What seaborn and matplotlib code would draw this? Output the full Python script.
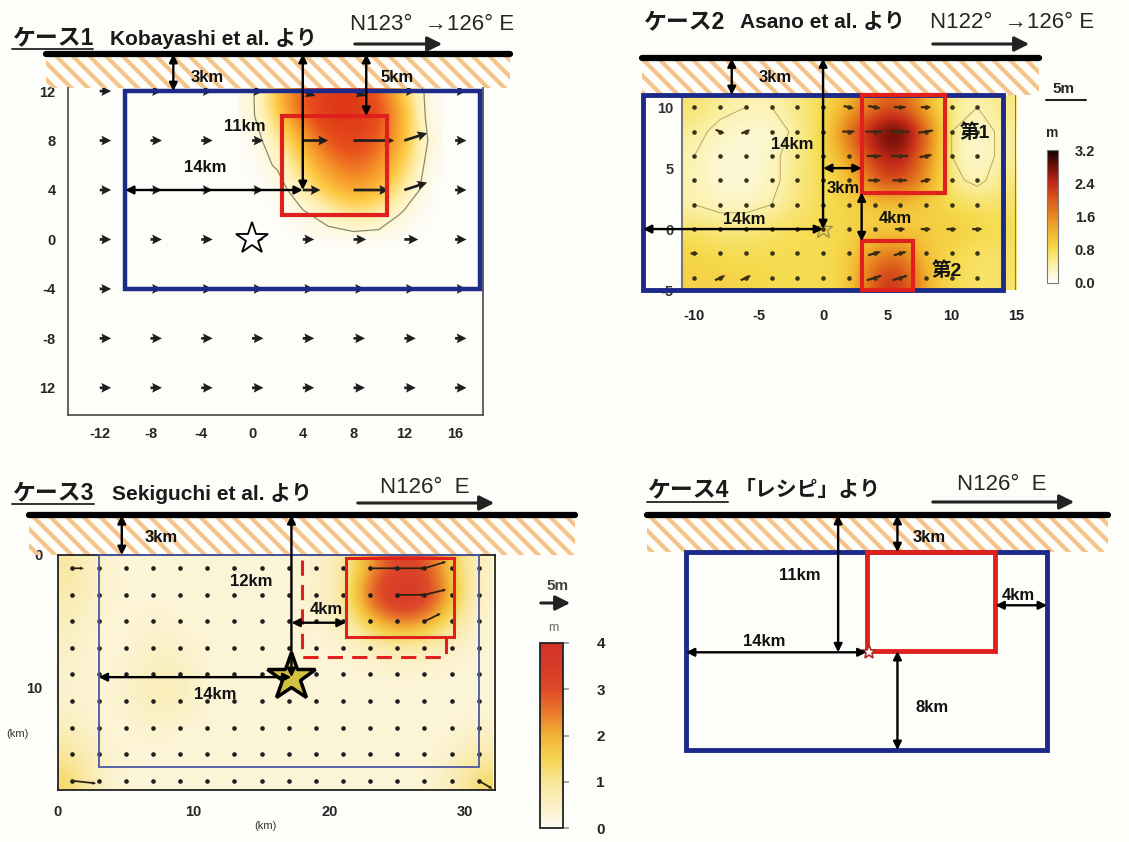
import numpy as np
import pandas as pd
import matplotlib
matplotlib.use("Agg")
import matplotlib.pyplot as plt
from matplotlib.patches import Rectangle, FancyArrowPatch
from matplotlib.lines import Line2D
import seaborn as sns

W, H = 1129, 842

# ---------------- data ----------------
# case 1 : Kobayashi et al.  (grid nodes, km)
x1 = [-12, -8, -4, 0, 4, 8, 12, 16]
y1 = [12, 8, 4, 0, -4, -8, -12]
# slip (normalised) on a 2 km sub-grid around the asperity
sx1 = [0, 2, 4, 6, 8, 10, 12, 14]
sy1 = [14, 12, 10, 8, 6, 4, 2, 0]
slip1 = [
    [0, 0.10, 0.40, 0.60, 0.60, 0.40, 0.10, 0],
    [0.05, 0.45, 0.85, 1.00, 1.00, 0.80, 0.35, 0],
    [0.05, 0.35, 0.75, 0.95, 1.00, 0.85, 0.45, 0],
    [0, 0.20, 0.50, 0.80, 0.90, 0.75, 0.45, 0.05],
    [0, 0.10, 0.35, 0.60, 0.75, 0.60, 0.35, 0],
    [0, 0, 0.20, 0.40, 0.55, 0.45, 0.20, 0],
    [0, 0, 0.05, 0.15, 0.25, 0.20, 0.05, 0],
    [0, 0, 0, 0, 0, 0, 0, 0],
]
u1 = [
    [0.9, 0.9, 0.9, 0.9, 1.0, 1.0, 0.9, 0.9],
    [0.9, 0.9, 0.9, 0.9, 2.0, 3.2, 1.8, 0.9],
    [0.9, 0.9, 0.9, 0.9, 1.4, 2.8, 1.8, 0.9],
    [0.9, 0.9, 0.9, 0.9, 0.9, 1.0, 1.1, 0.9],
    [0.9, 0.9, 0.9, 0.9, 0.9, 0.9, 0.9, 0.9],
    [0.9, 0.9, 0.9, 0.9, 0.9, 0.9, 0.9, 0.9],
    [0.9, 0.9, 0.9, 0.9, 0.9, 0.9, 0.9, 0.9],
]
v1 = [
    [0, 0, 0, 0, -0.4, -0.4, 0, 0],
    [0, 0, 0, 0, 0, 0, 0.6, 0],
    [0, 0, 0, 0, 0, 0, 0.6, 0],
    [0, 0, 0, 0, 0, 0, 0, 0],
    [0, 0, 0, 0, 0, 0, 0, 0],
    [0, 0, 0, 0, 0, 0, 0, 0],
    [0, 0, 0, 0, 0, 0, 0, 0],
]
fault1 = (-10, -4, 28, 16)
asp1 = (2.4, 2, 8.2, 8)
hypo1 = (0, 0)

# case 2 : Asano et al.
x2 = [-10, -8, -6, -4, -2, 0, 2, 4, 6, 8, 10, 12, 14]
y2 = [10, 8, 6, 4, 2, 0, -2, -4]
slip2 = [
    [0.7, 0.5, 0.4, 0.4, 0.6, 0.8, 1.2, 1.8, 2.0, 1.2, 0.5, 0.4, 0.6],
    [0.5, 0.3, 0.2, 0.2, 0.5, 0.8, 2.0, 2.8, 3.2, 2.0, 0.4, 0.2, 0.5],
    [0.4, 0.2, 0.2, 0.3, 0.6, 0.8, 1.4, 2.4, 2.6, 1.7, 0.4, 0.2, 0.5],
    [0.4, 0.2, 0.2, 0.3, 0.6, 0.8, 1.0, 2.1, 2.3, 1.5, 0.5, 0.3, 0.6],
    [0.4, 0.3, 0.3, 0.4, 0.6, 0.8, 0.9, 1.0, 1.0, 0.9, 0.8, 0.7, 0.7],
    [0.7, 0.6, 0.6, 0.7, 0.8, 0.8, 0.9, 0.9, 1.0, 1.0, 1.0, 0.9, 0.8],
    [0.9, 0.8, 0.8, 0.8, 0.8, 0.8, 0.9, 1.6, 1.8, 1.0, 0.8, 0.7, 0.7],
    [0.9, 0.9, 0.9, 0.8, 0.8, 0.8, 0.9, 2.2, 2.4, 1.2, 0.8, 0.7, 0.7],
]
dash2_x = [2, 4, 6, 8, 2, 4, 6, 8, 4, 6, 8, 4, 6, 8, 6, 8, 10, 12, 4, 6, 4, 6, -8, -6, -10, -8, -6]
dash2_y = [10, 10, 10, 10, 8, 8, 8, 8, 6, 6, 6, 4, 4, 4, 0, 0, 0, 0, -2, -2, -4, -4, 8, 8, -2, -4, -4]
dash2_u = [0.8, 1.0, 1.0, 0.8, 1.0, 1.4, 1.6, 1.2, 1.2, 1.4, 1.0, 1.0, 1.2, 0.8, 0.8, 0.8, 0.8, 0.8,
           1.0, 1.0, 1.2, 1.2, 0.7, 0.7, 0.6, 0.8, 0.8]
dash2_v = [-0.2, -0.2, 0, 0, 0, 0, 0, 0.2, 0, 0, 0.2, 0, 0, 0.2, 0, 0, 0, 0,
           0.3, 0.3, 0.4, 0.4, -0.3, 0.3, 0, 0.4, 0.4]
fault2 = (-14, -5, 28, 16)
asp2a = (3, 3, 6.5, 8)
asp2b = (3, -5, 4, 4)
hypo2 = (0, 0)

# case 3 : Sekiguchi et al.  (depth positive downward)
x3 = [1, 3, 5, 7, 9, 11, 13, 15, 17, 19, 21, 23, 25, 27, 29, 31]
y3 = [1, 3, 5, 7, 9, 11, 13, 15, 17]
slip3 = [
    [0.9, 0.4, 0.3, 0.3, 0.3, 0.3, 0.3, 0.3, 0.3, 0.4, 0.7, 2.2, 3.2, 3.0, 1.6, 0.4],
    [0.8, 0.4, 0.3, 0.3, 0.3, 0.3, 0.3, 0.3, 0.3, 0.4, 0.9, 3.0, 3.9, 3.6, 2.0, 0.4],
    [0.6, 0.3, 0.3, 0.4, 0.3, 0.3, 0.3, 0.3, 0.3, 0.3, 0.6, 1.8, 2.6, 2.3, 1.1, 0.3],
    [0.5, 0.3, 0.3, 0.5, 0.4, 0.3, 0.3, 0.3, 0.3, 0.3, 0.3, 0.5, 0.7, 0.6, 0.4, 0.3],
    [0.4, 0.3, 0.4, 0.6, 0.6, 0.3, 0.3, 0.3, 0.3, 0.3, 0.3, 0.3, 0.3, 0.3, 0.3, 0.3],
    [0.4, 0.3, 0.4, 0.7, 0.6, 0.3, 0.3, 0.3, 0.3, 0.3, 0.3, 0.3, 0.3, 0.3, 0.3, 0.3],
    [0.6, 0.3, 0.3, 0.4, 0.3, 0.3, 0.3, 0.3, 0.3, 0.3, 0.3, 0.3, 0.3, 0.3, 0.3, 0.4],
    [1.0, 0.4, 0.3, 0.3, 0.3, 0.3, 0.3, 0.3, 0.3, 0.3, 0.3, 0.3, 0.3, 0.3, 0.4, 0.8],
    [1.4, 0.5, 0.3, 0.3, 0.3, 0.3, 0.3, 0.3, 0.3, 0.3, 0.3, 0.3, 0.3, 0.3, 0.6, 1.4],
]
vec3_x = [23, 25, 27, 25, 27, 27, 31, 1, 1]
vec3_y = [1, 1, 1, 3, 3, 5, 17, 1, 17]
vec3_u = [2.0, 2.0, 1.6, 2.0, 1.6, 1.2, 1.0, 0.9, 1.8]
vec3_v = [0, 0, -0.5, 0, -0.4, -0.6, 0.6, 0, 0.2]
fault3 = (3, 0, 28, 16)
asp3 = (21.2, 0.2, 8, 6)
hypo3 = (17.2, 9.2)

# case 4 : recipe
fault4 = (0, 3, 28, 16)
asp4 = (14, 3, 10, 8)
hypo4 = (14.2, 11.1)

# ---------------- style ----------------
sns.set_theme(style="white")
plt.rcParams["font.family"] = ["Liberation Sans", "Noto Sans CJK JP", "DejaVu Sans"]
plt.rcParams["axes.unicode_minus"] = False
plt.rcParams["hatch.linewidth"] = 3.0
NAVY = "#1c2a8a"
RED = "#e0201c"
HATCH = "#f5c48a"
BG = "#fdfdf9"

cmap1 = sns.blend_palette([BG, "#fff0b0", "#fdc840", "#f59028", "#e8501c", "#dc3418"], as_cmap=True)
cmap2 = sns.blend_palette(["#ffffff", "#fbf2b0", "#f6dc50", "#f2b830", "#e88a20",
                           "#dc5a1c", "#c42a18", "#701008", "#150000"], as_cmap=True)
cmap3 = sns.blend_palette(["#fefcf2", "#fbf0c4", "#f9e69a", "#f6d450", "#f2b236",
                           "#ea7a2a", "#de4a28", "#d63a28", "#d23228"], as_cmap=True)

fig = plt.figure(figsize=(W / 100, H / 100), dpi=100, facecolor=BG)


def add_ax(l, t, r, b):
    ax = fig.add_axes([l / W, 1 - b / H, (r - l) / W, (b - t) / H])
    ax.set_facecolor("none")
    return ax


def ftext(px, py, s, **kw):
    kw.setdefault("va", "center")
    kw.setdefault("fontsize", 14)
    return fig.text(px / W, 1 - py / H, s, **kw)


def title(px, py, s, size=15):
    return ftext(px, py, s, fontsize=size, fontweight="bold", color="#1a1a1a")


def farrow(px0, px1, py):
    fig.add_artist(FancyArrowPatch((px0 / W, 1 - py / H), (px1 / W, 1 - py / H),
                                   transform=fig.transFigure, arrowstyle="-|>",
                                   mutation_scale=22, lw=2.2, color="#222222"))


def underline(t):
    r = fig.canvas.get_renderer()
    bb = t.get_window_extent(r).transformed(fig.transFigure.inverted())
    fig.add_artist(Line2D([bb.x0, bb.x1], [bb.y0, bb.y0], transform=fig.transFigure,
                          color="#333333", lw=1.4))


def surface(ax, xa, xb, ytop, ybot):
    ax.add_patch(Rectangle((xa, min(ytop, ybot)), xb - xa, abs(ytop - ybot), facecolor="none",
                           edgecolor=HATCH, lw=0, hatch="\\\\", clip_on=False, zorder=1))
    ax.plot([xa, xb], [ytop, ytop], color="black", lw=4.5, clip_on=False,
            solid_capstyle="round", zorder=5)


def box(ax, rect, color, lw, **kw):
    x, y, w, h = rect
    ax.add_patch(Rectangle((x, y), w, h, facecolor="none", edgecolor=color, lw=lw,
                           clip_on=False, zorder=4, **kw))


def dim(ax, p0, p1):
    ax.annotate("", xy=p1, xytext=p0, annotation_clip=False, zorder=6,
                arrowprops=dict(arrowstyle="<|-|>", color="black", lw=1.7,
                                shrinkA=0, shrinkB=0, mutation_scale=12))


def label(ax, x, y, s, size=12):
    ax.text(x, y, s, fontsize=size, fontweight="bold", ha="center", va="center",
            color="#111111", zorder=7, clip_on=False)


# ---------------- case 1 ----------------
ax1 = add_ax(68, 88, 483, 415)
ax1.set_xlim(-14.5, 18.2)
ax1.set_ylim(-14.2, 12.25)
ax1.imshow(np.array(slip1), extent=(-1, 15, -1, 15), origin="upper", cmap=cmap1,
           vmin=0, vmax=1, interpolation="bicubic", aspect="auto", zorder=0)
ax1.contour(sx1, sy1, np.array(slip1), levels=[0.08], colors="#8a8a6a", linewidths=0.9, zorder=1)
X1, Y1 = np.meshgrid(x1, y1)
ax1.quiver(X1, Y1, u1, v1, angles="xy", scale_units="xy", scale=1, pivot="tail",
           color="#1e1e1e", width=0.0065, headwidth=3.6, headlength=3.6, headaxislength=3.2, zorder=3)
box(ax1, fault1, NAVY, 3.2)
box(ax1, asp1, RED, 3.0)
ax1.plot(*hypo1, marker="*", ms=24, mfc="white", mec="black", mew=1.3, zorder=5)
surface(ax1, -16.2, 20.3, 15, 12.25)
dim(ax1, (-6.2, 15), (-6.2, 12))
dim(ax1, (4, 15), (4, 4))
dim(ax1, (9.0, 15), (9.0, 10))
dim(ax1, (-10, 4), (4, 4))
label(ax1, -3.5, 13.1, "3km")
label(ax1, 11.4, 13.1, "5km")
label(ax1, -0.6, 9.1, "11km")
label(ax1, -3.7, 5.8, "14km")
ax1.set_xticks(x1)
ax1.set_yticks(y1)
ax1.set_yticklabels(["12", "8", "4", "0", "-4", "-8", "12"])
ax1.tick_params(length=3, width=1, color="#555555", labelsize=10.5, pad=6)
for t in ax1.get_xticklabels() + ax1.get_yticklabels():
    t.set_fontweight("bold")
for s in ["left", "bottom", "right"]:
    ax1.spines[s].set_color("#555555")
    ax1.spines[s].set_linewidth(1.3)
ax1.spines["top"].set_visible(False)

t = title(12, 38, "ケース1", size=16.5)
underline(t)
title(110, 38, "Kobayashi et al. より")
ftext(350, 24, "N123°  →126° E", fontsize=16)
farrow(352, 445, 44)

# ---------------- case 2 ----------------
ax2 = add_ax(643, 95, 1016, 290)
ax2.set_xlim(-14, 15)
ax2.set_ylim(-5, 11)
im2 = ax2.imshow(np.array(slip2), extent=(-11, 15, -5, 11), origin="upper", cmap=cmap2,
                 vmin=0, vmax=3.2, interpolation="bicubic", aspect="auto", zorder=0)
X2, Y2 = np.meshgrid(x2, y2)
ax2.contour(X2, Y2, np.array(slip2), levels=[0.4], colors="#b8a860", linewidths=0.7, zorder=1)
ax2.axvline(-11, color="#777777", lw=1.5, zorder=1)
ax2.axvline(15, color="#777777", lw=1.5, zorder=1)
nodes2 = pd.DataFrame({"x": X2.ravel(), "y": Y2.ravel()})
sns.scatterplot(data=nodes2, x="x", y="y", ax=ax2, color="#3c3418", s=11, linewidth=0,
                legend=False, zorder=3)
ax2.quiver(dash2_x, dash2_y, dash2_u, dash2_v, angles="xy", scale_units="xy", scale=1,
           pivot="middle", color="#3a2a10", width=0.006, headwidth=1.5, headlength=1.5,
           headaxislength=1.5, zorder=3)
box(ax2, fault2, NAVY, 3.5)
box(ax2, asp2a, RED, 3.0)
box(ax2, asp2b, RED, 3.0)
ax2.plot(*hypo2, marker="*", ms=14, mfc="none", mec="#9a9050", mew=1.0, zorder=5)
surface(ax2, -14.1, 16.8, 14, 11)
dim(ax2, (-7.1, 14), (-7.1, 11))
dim(ax2, (0, 14), (0, 0))
dim(ax2, (-14, 0), (0, 0))
dim(ax2, (0, 5), (3, 5))
dim(ax2, (3, 3), (3, -1))
label(ax2, -3.7, 12.4, "3km")
label(ax2, -2.4, 6.9, "14km")
label(ax2, -6.1, 0.8, "14km")
label(ax2, 1.6, 3.3, "3km")
label(ax2, 5.6, 0.9, "4km")
label(ax2, 11.8, 7.9, "第1", size=14)
label(ax2, 9.6, -3.4, "第2", size=14)
ax2.set_xlabel("")
ax2.set_ylabel("")
ax2.set_xticks([-10, -5, 0, 5, 10, 15])
ax2.set_yticks([10, 5, 0, -5])
ax2.set_yticklabels(["10", "5", "0", "-5"])
ax2.tick_params(axis="x", length=0, pad=14, labelsize=10.5, labelcolor="#222222")
ax2.tick_params(axis="y", length=0, pad=-22, labelsize=10.5, labelcolor="#333333")
for t in ax2.get_xticklabels() + ax2.get_yticklabels():
    t.set_fontweight("bold")
for s in ax2.spines.values():
    s.set_visible(False)

cax2 = add_ax(1047, 150, 1058, 283)
cb2 = fig.colorbar(im2, cax=cax2, ticks=[0, 0.8, 1.6, 2.4, 3.2])
cb2.ax.set_yticklabels(["0.0", "0.8", "1.6", "2.4", "3.2"])
cb2.ax.tick_params(length=0, pad=12, labelsize=10.5)
for t in cb2.ax.get_yticklabels():
    t.set_fontweight("bold")
cb2.outline.set_edgecolor("#777777")
cb2.outline.set_linewidth(0.8)
ftext(1052, 133, "m", fontsize=10, fontweight="bold", ha="center")
ftext(1064, 89, "5m", fontsize=11, fontweight="bold", ha="center")
fig.add_artist(Line2D([1046 / W, 1086 / W], [1 - 100 / H] * 2, transform=fig.transFigure,
                      color="#222222", lw=1.5))

title(643, 22, "ケース2", size=16.5)
title(740, 22, "Asano et al. より")
ftext(930, 22, "N122°  →126° E", fontsize=16)
farrow(930, 1032, 44)

# ---------------- case 3 ----------------
ax3 = add_ax(58, 555, 495, 790)
ax3.set_xlim(0, 32.2)
ax3.set_ylim(17.7, 0)
im3 = ax3.imshow(np.array(slip3), extent=(0, 32, 18, 0), origin="upper", cmap=cmap3,
                 vmin=0, vmax=4, interpolation="bicubic", aspect="auto", zorder=0)
X3, Y3 = np.meshgrid(x3, y3)
nodes3 = pd.DataFrame({"x": X3.ravel(), "y": Y3.ravel()})
sns.scatterplot(data=nodes3, x="x", y="y", ax=ax3, color="#1e1e1e", s=11, linewidth=0,
                legend=False, zorder=3)
ax3.quiver(vec3_x, vec3_y, vec3_u, vec3_v, angles="xy", scale_units="xy", scale=1,
           pivot="tail", color="#2a2010", width=0.004, headwidth=2, headlength=2,
           headaxislength=2, zorder=3)
box(ax3, fault3, "#4a58a0", 1.3)
box(ax3, asp3, RED, 2.2)
ax3.plot([18, 18, 28.6, 28.6], [0.4, 7.7, 7.7, 6.2], color=RED, lw=2.2, ls=(0, (5, 3)), zorder=4)
ax3.plot(*hypo3, marker="*", ms=36, mfc="#d4c040", mec="black", mew=2.5, zorder=5)
surface(ax3, -2.1, 38.1, -3, 0)
dim(ax3, (4.7, -3), (4.7, 0))
dim(ax3, (17.2, -3), hypo3)
dim(ax3, (3, 9.2), hypo3)
dim(ax3, (17.2, 5.1), (21.2, 5.1))
label(ax3, 7.6, -1.35, "3km")
label(ax3, 14.2, 2.0, "12km")
label(ax3, 19.8, 4.1, "4km")
label(ax3, 11.6, 10.5, "14km")
ax3.set_xlabel("")
ax3.set_ylabel("")
ax3.set_xticks([0, 10, 20, 30])
ax3.set_yticks([0, 10])
ax3.tick_params(length=3, color="#888888", labelsize=10.5, pad=8)
for t in ax3.get_xticklabels() + ax3.get_yticklabels():
    t.set_fontweight("bold")
for s in ax3.spines.values():
    s.set_color("#222222")
    s.set_linewidth(1.3)
ax3.text(15.3, 20.4, "(km)", fontsize=8, ha="center", va="center", color="#333333")
ax3.text(-3.0, 13.5, "(km)", fontsize=8, ha="center", va="center", color="#333333")

cax3 = add_ax(540, 643, 563, 828)
cb3 = fig.colorbar(im3, cax=cax3, ticks=[0, 1, 2, 3, 4])
cb3.ax.tick_params(length=4, pad=20, labelsize=11, color="#999999")
for t in cb3.ax.get_yticklabels():
    t.set_fontweight("bold")
cb3.outline.set_edgecolor("#222222")
cb3.outline.set_linewidth(1.3)
ftext(548, 628, "m", fontsize=9, color="#666666")
ftext(546, 586, "5m", fontsize=11, fontweight="bold", color="#444444")
farrow(538, 573, 603)

t = title(12, 493, "ケース3", size=16.5)
underline(t)
title(112, 493, "Sekiguchi et al. より")
ftext(380, 487, "N126°  E", fontsize=16)
farrow(355, 497, 503)

# ---------------- case 4 ----------------
ax4 = add_ax(686, 515, 1047, 750)
ax4.set_xlim(0, 28)
ax4.set_ylim(19, 0)
ax4.axis("off")
box(ax4, fault4, NAVY, 3.5)
box(ax4, asp4, RED, 3.5)
ax4.plot(*hypo4, marker="*", ms=10, mfc="white", mec="#b02828", mew=1.2, zorder=5)
surface(ax4, -3.0, 32.7, 0, 3)
dim(ax4, (11.8, 0), (11.8, 11.1))
dim(ax4, (0, 11.1), (14, 11.1))
dim(ax4, (16.4, 0), (16.4, 3))
dim(ax4, (16.4, 11), (16.4, 19))
dim(ax4, (24, 7.3), (28, 7.3))
label(ax4, 8.8, 4.9, "11km")
label(ax4, 6.1, 10.2, "14km")
label(ax4, 18.9, 1.8, "3km")
label(ax4, 25.8, 6.5, "4km")
label(ax4, 19.1, 15.6, "8km")

t = title(647, 490, "ケース4", size=16.5)
underline(t)
title(735, 490, "「レシピ」より")
ftext(957, 485, "N126°  E", fontsize=16)
farrow(930, 1077, 502)

fig.savefig("out.png", dpi=100, facecolor=BG)
